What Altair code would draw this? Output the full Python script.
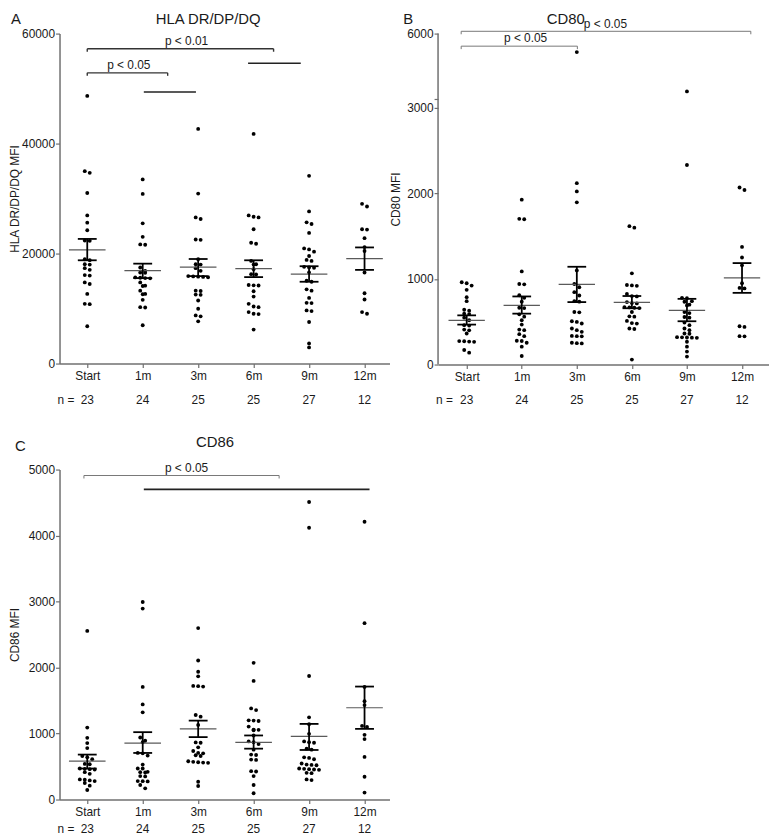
import altair as alt
import pandas as pd

# ---------------- data ----------------
cats = ["Start", "1m", "3m", "6m", "9m", "12m"]
n_counts = [23, 24, 25, 25, 27, 12]

# Panel A: HLA DR/DP/DQ MFI
hla_start = [48660, 34980, 34680, 31020, 26940, 25620, 24240, 22380, 22320, 18960, 18800, 18060,
             18000, 17340, 17040, 16080, 16000, 14760, 14460, 12660, 10860, 10800, 6780]
hla_1m = [33480, 30840, 25500, 23040, 21660, 21600, 17460, 16860, 16560, 16500, 15660, 15600,
          15540, 15500, 14760, 14160, 14100, 13260, 12660, 12600, 11580, 10260, 10200, 6960]
hla_3m = [42660, 30900, 26580, 26280, 22560, 22500, 18960, 18060, 18000, 17340, 16860, 15900,
          15840, 15800, 15750, 15700, 13260, 13200, 12540, 12500, 11460, 9960, 8760, 8580, 7680]
hla_6m = [41760, 26940, 26700, 26580, 24420, 21960, 21780, 18660, 18060, 18000, 17160, 16260,
          16200, 14280, 14220, 14200, 13140, 12180, 10860, 10380, 10260, 9360, 9060, 9000, 6180]
hla_9m = [34140, 27660, 25680, 25380, 23760, 20940, 20760, 20340, 19560, 18840, 18660, 17580,
          17460, 17400, 16560, 15060, 14880, 13500, 13260, 11940, 11040, 11000, 9660, 9540,
          7560, 3660, 2940]
hla_12m = [29040, 28560, 24420, 24360, 22800, 21180, 20460, 16560, 12780, 11640, 9360, 9060]
hla_mean = [20683, 16906, 17518, 17266, 16259, 19065]
hla_sem_hi = [22662, 18165, 19011, 18777, 17698, 21115]
hla_sem_lo = [18777, 15540, 15899, 15719, 14874, 17032]

# Panel B: CD80 MFI
cd80_start = [962, 950, 923, 873, 788, 741, 641, 630, 595, 590, 548, 518, 460, 455, 409, 400,
              363, 274, 272, 268, 265, 170, 139]
cd80_1m = [1927, 1703, 1698, 1089, 942, 938, 810, 780, 735, 664, 660, 587, 560, 518, 467, 409,
           402, 355, 332, 278, 275, 255, 209, 100]
cd80_3m = [5150, 2120, 2024, 1896, 1100, 942, 904, 846, 807, 741, 735, 614, 610, 506, 498, 480,
           421, 402, 382, 335, 332, 330, 255, 250, 247]
cd80_6m = [1618, 1600, 1066, 930, 925, 920, 826, 800, 796, 730, 718, 715, 672, 668, 664, 660,
           614, 564, 560, 510, 485, 479, 421, 415, 58]
cd80_9m = [3348, 2333, 780, 775, 741, 734, 700, 691, 614, 602, 556, 548, 490, 460, 421, 402,
           363, 360, 320, 318, 316, 314, 312, 266, 209, 151, 93]
cd80_12m = [2070, 2040, 1375, 1251, 1160, 950, 896, 890, 448, 440, 332, 330]
cd80_mean = [517, 691, 938, 726, 633, 1012]
cd80_sem_hi = [575, 796, 1143, 801, 768, 1186]
cd80_sem_lo = [467, 595, 730, 658, 506, 838]

# Panel C: CD86 MFI
cd86_start = [2555, 1090, 935, 855, 780, 660, 640, 610, 540, 535, 470, 465, 460, 455, 415, 390,
              305, 300, 290, 280, 250, 210, 145]
cd86_1m = [2993, 2893, 1707, 1441, 1321, 940, 891, 870, 706, 700, 666, 530, 470, 470, 420, 415,
           410, 355, 350, 280, 278, 275, 220, 170]
cd86_3m = [2598, 2107, 1937, 1867, 1722, 1718, 1712, 1281, 1256, 1131, 866, 860, 791, 735, 706,
           700, 671, 660, 580, 571, 565, 560, 556, 270, 205]
cd86_6m = [2072, 1797, 1381, 1356, 1200, 1196, 1190, 1106, 1060, 1056, 1050, 971, 881, 870, 840,
           756, 681, 675, 606, 600, 430, 425, 355, 220, 95]
cd86_9m = [4509, 4119, 1872, 1246, 1141, 996, 881, 870, 860, 771, 756, 640, 631, 610, 546, 530,
           525, 520, 470, 465, 460, 455, 450, 405, 400, 305, 295]
cd86_12m = [4209, 2673, 1707, 1491, 1431, 1116, 1100, 981, 916, 646, 345, 105]
cd86_mean = [581, 856, 1071, 866, 956, 1391]
cd86_sem_hi = [681, 1021, 1196, 971, 1146, 1712]
cd86_sem_lo = [470, 706, 946, 771, 751, 1071]

# significance annotations (x in category positions: 0 = Start ... 5 = 12m)
hla_br_x1 = [0.0, 0.0]
hla_br_x2 = [3.36, 1.45]
hla_br_y = [57240, 52860]
hla_br_text = ["p < 0.01", "p < 0.05"]
hla_br_tx = [1.79, 0.75]
hla_br_ty = [58634, 54317]
hla_ln_x1 = [1.02, 2.90]
hla_ln_x2 = [1.96, 3.85]
hla_ln_y = [49380, 54600]

cd80_br_x1 = [-0.10, -0.10]
cd80_br_x2 = [5.16, 2.01]
cd80_br_y = [6105, 5423]
cd80_br_text = ["p < 0.05", "p < 0.05"]
cd80_br_tx = [2.52, 1.07]
cd80_br_ty = [6455, 5773]

cd86_br_x1 = [-0.06]
cd86_br_x2 = [3.46]
cd86_br_y = [4910]
cd86_br_text = ["p < 0.05"]
cd86_br_tx = [1.79]
cd86_br_ty = [5025]
cd86_ln_x1 = [1.02]
cd86_ln_x2 = [5.09]
cd86_ln_y = [4700]

# ---------------- helpers ----------------
FONT = "Liberation Sans"
AXC = "#707070"
TXT = "#1a1a1a"

label_expr = " : ".join(f"datum.value == {i} ? '{c}'" for i, c in enumerate(cats)) + " : ''"


def swarm(vals, to_px, step_px, row_px=3.6, dot_px=5.0):
    order = sorted(vals, reverse=True)
    rows = []
    for v in order:
        if rows and to_px(rows[-1][0]) - to_px(v) < row_px:
            rows[-1].append(v)
        else:
            rows.append([v])
    out = []
    for r in rows:
        k = len(r)
        for i, v in enumerate(r):
            out.append((v, (i - (k - 1) / 2.0) * dot_px / step_px))
    return out


def panel(groups, mean, hi, lo, br, ln, *, width, height, xdom, ytop, yvals, ytitle,
          title, title_x, title_y, letter, letter_x, letter_y, title_pad, n_dy,
          br_color, br_width, ln_color, ln_width, brk=None):
    if brk is None:
        upp = ytop / height
        to_disp = lambda v: v
        ex = lambda f: f"datum['{f}']"
        ydomain = [0, ytop]
        yaxis = alt.Axis(values=yvals, format="d")
        ydomain_line = True
    else:
        lo_top, hi_bot, hi_top, lo_px, gap_px, hi_px = brk
        upp = lo_top / lo_px
        base = lo_top + gap_px * upp
        ratio = hi_px * upp / (hi_top - hi_bot)
        to_disp = lambda v: v if v <= lo_top else base + (v - hi_bot) * ratio
        ex = lambda f: (f"(datum['{f}'] <= {lo_top} ? datum['{f}'] : "
                        f"{base} + (datum['{f}'] - {hi_bot}) * {ratio})")
        ydomain = [0, to_disp(hi_top)]
        vals_d = sorted([to_disp(v) for v in yvals] + [base])
        lab = (f"datum.value <= {lo_top + 0.5} ? format(datum.value, 'd') : "
               f"(datum.value < {base + 1} ? '' : "
               f"format(round({hi_bot} + (datum.value - {base}) / {ratio}), 'd'))")
        yaxis = alt.Axis(values=vals_d, labelExpr=lab)
        ydomain_line = False

    ax_common = dict(grid=False, domainColor=AXC, domainWidth=1.5, tickColor=AXC, tickWidth=1.2,
                     tickSize=4, labelFont=FONT, labelFontSize=12, labelColor=TXT)
    yaxis = alt.Axis(**{k: v for k, v in yaxis.to_dict().items()}, title=ytitle,
                     titleFont=FONT, titleFontSize=12, titleFontWeight="normal",
                     titleColor=TXT, titlePadding=title_pad, labelPadding=1,
                     domain=ydomain_line, **ax_common)
    xaxis = alt.Axis(values=list(range(len(cats))), labelExpr=label_expr, title=None,
                     labelPadding=3, labelOverlap=False, labelFlush=False, **ax_common)

    xs = alt.Scale(domain=xdom, nice=False, zero=False)
    ys = alt.Scale(domain=ydomain, nice=False, zero=False)
    X = lambda f: alt.X(f"{f}:Q", scale=xs, axis=xaxis)
    Y = lambda f: alt.Y(f"{f}:Q", scale=ys, axis=yaxis)

    step_px = width / (xdom[1] - xdom[0])
    rows = []
    for gi, vals in enumerate(groups):
        for v, off in swarm(vals, lambda q: to_disp(q) / upp, step_px):
            rows.append({"g": gi, "v": v, "off": off})
    dots_df = pd.DataFrame(rows)

    layers = []
    layers.append(
        alt.Chart(dots_df)
        .transform_calculate(xp="datum.g + datum.off", yp=ex("v"))
        .mark_circle(size=15, color="black", opacity=1)
        .encode(x=X("xp"), y=Y("yp"))
    )

    stats = pd.DataFrame({"g": list(range(len(cats))), "m": mean, "hi": hi, "lo": lo})
    layers.append(
        alt.Chart(stats)
        .transform_calculate(a="datum.g - 0.33", b="datum.g + 0.33", ym=ex("m"))
        .mark_rule(color="#5a5a5a", strokeWidth=1.2)
        .encode(x=X("a"), x2=alt.X2("b:Q"), y=Y("ym"))
    )
    layers.append(
        alt.Chart(stats)
        .transform_calculate(yl=ex("lo"), yh=ex("hi"))
        .mark_rule(color="black", strokeWidth=1.8)
        .encode(x=X("g"), y=Y("yl"), y2=alt.Y2("yh:Q"))
    )
    for f in ("hi", "lo"):
        layers.append(
            alt.Chart(stats)
            .transform_calculate(a="datum.g - 0.17", b="datum.g + 0.17", yc=ex(f))
            .mark_rule(color="black", strokeWidth=1.8)
            .encode(x=X("a"), x2=alt.X2("b:Q"), y=Y("yc"))
        )

    if br is not None:
        br_df = pd.DataFrame(br)
        drop = 3.0 * upp
        layers.append(
            alt.Chart(br_df)
            .transform_calculate(yb=ex("y"))
            .mark_rule(color=br_color, strokeWidth=br_width)
            .encode(x=X("x1"), x2=alt.X2("x2:Q"), y=Y("yb"))
        )
        for f in ("x1", "x2"):
            layers.append(
                alt.Chart(br_df)
                .transform_calculate(yb=ex("y"), yt=f"{ex('y')} - {drop}")
                .mark_rule(color=br_color, strokeWidth=br_width)
                .encode(x=X(f), y=Y("yb"), y2=alt.Y2("yt:Q"))
            )
        layers.append(
            alt.Chart(br_df)
            .transform_calculate(tyd=ex("ty"))
            .mark_text(font=FONT, fontSize=12, color=TXT, baseline="middle", align="center")
            .encode(x=X("tx"), y=Y("tyd"), text="text:N")
        )
    if ln is not None:
        ln_df = pd.DataFrame(ln)
        layers.append(
            alt.Chart(ln_df)
            .transform_calculate(yb=ex("y"))
            .mark_rule(color=ln_color, strokeWidth=ln_width)
            .encode(x=X("x1"), x2=alt.X2("x2:Q"), y=Y("yb"))
        )

    if brk is not None:
        lo_top, hi_bot, hi_top = brk[0], brk[1], brk[2]
        seg_df = pd.DataFrame({"s0": [0, hi_bot], "s1": [lo_top, hi_top]})
        layers.append(
            alt.Chart(seg_df)
            .transform_calculate(a=ex("s0"), b=ex("s1"))
            .mark_rule(color=AXC, strokeWidth=1.5)
            .encode(x=alt.value(0), y=Y("a"), y2=alt.Y2("b:Q"))
        )

    n_df = pd.DataFrame({"g": list(range(len(cats))), "n": n_counts})
    layers.append(
        alt.Chart(n_df)
        .mark_text(font=FONT, fontSize=12, color=TXT, baseline="middle", align="center")
        .encode(x=X("g"), y=alt.value(height + n_dy), text="n:N")
    )
    layers.append(
        alt.Chart(pd.DataFrame({"t": ["n ="]}))
        .mark_text(font=FONT, fontSize=12, color=TXT, baseline="middle", align="right")
        .encode(x=alt.value(15), y=alt.value(height + n_dy), text="t:N")
    )
    layers.append(
        alt.Chart(pd.DataFrame({"t": [title]}))
        .mark_text(font=FONT, fontSize=15, color=TXT, baseline="alphabetic", align="center")
        .encode(x=alt.value(title_x), y=alt.value(title_y), text="t:N")
    )
    layers.append(
        alt.Chart(pd.DataFrame({"t": [letter]}))
        .mark_text(font=FONT, fontSize=15, color=TXT, baseline="alphabetic", align="left")
        .encode(x=alt.value(letter_x), y=alt.value(letter_y), text="t:N")
    )
    return alt.layer(*layers).properties(width=width, height=height)


A = panel(
    [hla_start, hla_1m, hla_3m, hla_6m, hla_9m, hla_12m], hla_mean, hla_sem_hi, hla_sem_lo,
    dict(x1=hla_br_x1, x2=hla_br_x2, y=hla_br_y, text=hla_br_text, tx=hla_br_tx, ty=hla_br_ty),
    dict(x1=hla_ln_x1, x2=hla_ln_x2, y=hla_ln_y),
    width=333, height=333, xdom=[-0.5, 5.45], ytop=60000, yvals=[0, 20000, 40000, 60000],
    ytitle="HLA DR/DP/DQ MFI", title="HLA DR/DP/DQ", title_x=150, title_y=-10,
    letter="A", letter_x=-49, letter_y=-10, title_pad=0, n_dy=37,
    br_color="#333333", br_width=1.4, ln_color="#222222", ln_width=1.5,
)

B = panel(
    [cd80_start, cd80_1m, cd80_3m, cd80_6m, cd80_9m, cd80_12m], cd80_mean, cd80_sem_hi, cd80_sem_lo,
    dict(x1=cd80_br_x1, x2=cd80_br_x2, y=cd80_br_y, text=cd80_br_text, tx=cd80_br_tx, ty=cd80_br_ty),
    None,
    width=334, height=334, xdom=[-0.52, 5.49], ytop=6000, yvals=[0, 1000, 2000, 3000, 6000],
    ytitle="CD80  MFI", title="CD80", title_x=129, title_y=-10,
    letter="B", letter_x=-35, letter_y=-10, title_pad=4, n_dy=36,
    br_color="#777777", br_width=1.0, ln_color="#222222", ln_width=1.5,
    brk=(3000, 3000, 6000, 259, 9, 66),
)

C = panel(
    [cd86_start, cd86_1m, cd86_3m, cd86_6m, cd86_9m, cd86_12m], cd86_mean, cd86_sem_hi, cd86_sem_lo,
    dict(x1=cd86_br_x1, x2=cd86_br_x2, y=cd86_br_y, text=cd86_br_text, tx=cd86_br_tx, ty=cd86_br_ty),
    dict(x1=cd86_ln_x1, x2=cd86_ln_x2, y=cd86_ln_y),
    width=333, height=333, xdom=[-0.5, 5.45], ytop=5000, yvals=[0, 1000, 2000, 3000, 4000, 5000],
    ytitle="CD86 MFI", title="CD86", title_x=157, title_y=-23,
    letter="C", letter_x=-45, letter_y=-19, title_pad=6.5, n_dy=30,
    br_color="#777777", br_width=1.0, ln_color="#222222", ln_width=1.6,
)

chart = (
    alt.concat(A, B, C, columns=2, spacing={"row": 29, "column": 0}, align="each")
    .properties(padding=0)
    .configure_view(stroke=None)
)

chart.save("out.html", embed_options={"renderer": "svg", "actions": False})
